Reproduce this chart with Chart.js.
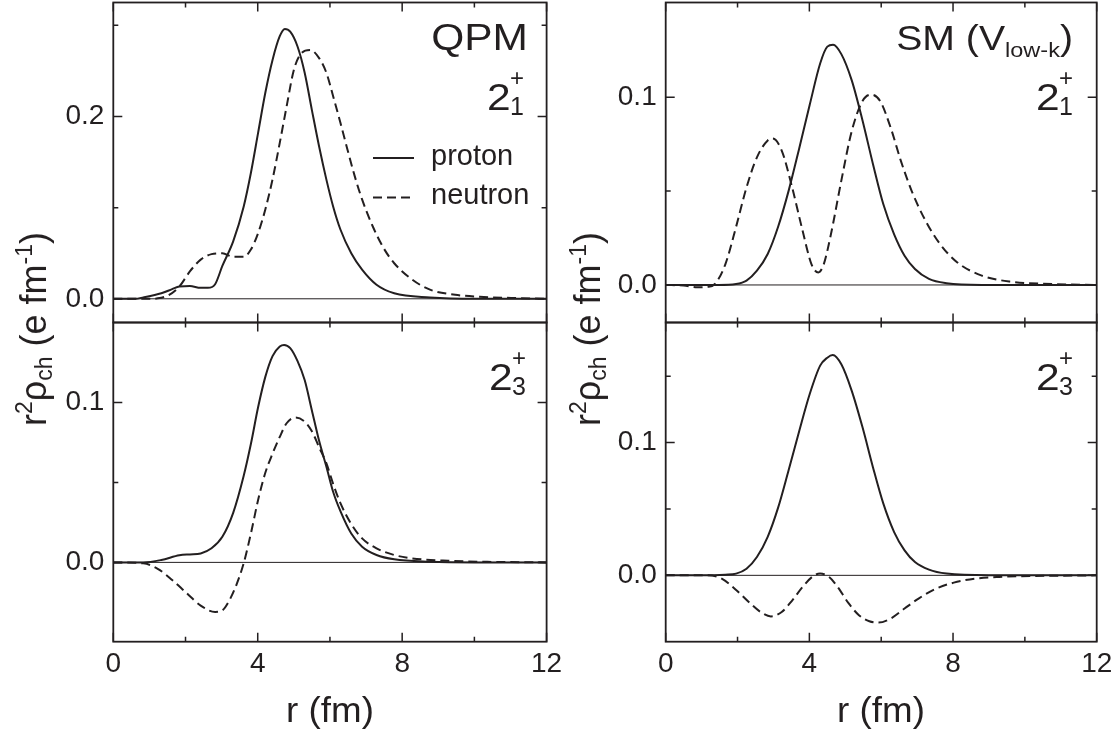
<!DOCTYPE html>
<html><head><meta charset="utf-8">
<script src="https://cdn.jsdelivr.net/npm/chart.js@4/dist/chart.umd.min.js"></script>
<style>
html,body{margin:0;padding:0;background:#fff;}
#wrap{position:relative;width:1111px;height:735px;overflow:hidden;font-family:"Liberation Sans",Arial,sans-serif;color:#231f20;}
canvas{position:absolute;left:0;top:0;}
.t{position:absolute;white-space:nowrap;line-height:1;}
</style></head><body><div id="wrap">
<canvas id="cTL" width="1111" height="735"></canvas>
<canvas id="cBL" width="1111" height="735"></canvas>
<canvas id="cTR" width="1111" height="735"></canvas>
<canvas id="cBR" width="1111" height="735"></canvas>
</div>
<script>
// ---------- data ----------
const xTickLabels = [0, 4, 8, 12];
const xMinorTicks = [2, 6, 10];

// QPM 2_1+
const rQ1p = [0,0.6,0.83,1.33,1.63,1.83,2.12,2.42,2.62,2.82,3.02,3.32,3.61,3.81,4.01,4.21,4.41,4.61,4.75,4.90,5.1,5.3,5.5,5.7,5.9,6.09,6.29,6.59,6.89,7.29,7.78,8.77,10,12];
const vQ1p = [0,0,0.0015,0.006,0.0106,0.0135,0.014,0.012,0.012,0.016,0.036,0.063,0.101,0.138,0.182,0.226,0.262,0.288,0.296,0.293,0.277,0.248,0.207,0.167,0.131,0.101,0.076,0.050,0.032,0.0154,0.006,0.0015,0,0];
const rQ1n = [0,1.0,1.23,1.53,1.83,2.12,2.42,2.72,3.02,3.32,3.61,3.81,4.01,4.21,4.41,4.61,4.80,5.0,5.2,5.45,5.70,5.90,6.09,6.29,6.49,6.69,6.89,7.19,7.48,7.78,8.28,8.77,9.47,10.26,11.25,12];
const vQ1n = [0,0,0.0005,0.004,0.0135,0.030,0.043,0.049,0.050,0.046,0.046,0.054,0.072,0.098,0.131,0.171,0.211,0.251,0.269,0.273,0.264,0.248,0.222,0.193,0.163,0.134,0.109,0.079,0.056,0.039,0.021,0.010,0.0044,0.002,0.0007,0];
// QPM 2_3+
const rQ3p = [0,0.83,1.33,1.83,2.12,2.42,2.72,3.02,3.32,3.61,3.81,4.01,4.21,4.41,4.61,4.73,4.9,5.1,5.3,5.5,5.7,5.9,6.09,6.29,6.59,6.89,7.29,7.78,8.77,10,12];
const vQ3p = [0,0,0.0015,0.0044,0.005,0.0056,0.0088,0.016,0.031,0.054,0.074,0.097,0.116,0.129,0.135,0.136,0.134,0.126,0.114,0.095,0.076,0.060,0.044,0.032,0.018,0.0098,0.0046,0.0019,0.0004,0,0];
const rQ3n = [0,0.83,1.23,1.63,2.02,2.42,2.82,3.02,3.22,3.41,3.61,3.81,4.01,4.21,4.41,4.61,4.80,5.05,5.30,5.5,5.7,5.9,6.09,6.29,6.59,6.89,7.29,7.78,8.28,9.27,10.5,12];
const vQ3n = [0,-0.0006,-0.004,-0.011,-0.019,-0.027,-0.031,-0.030,-0.0235,-0.014,-0.0006,0.018,0.039,0.056,0.068,0.0785,0.087,0.0906,0.088,0.082,0.072,0.062,0.049,0.037,0.024,0.015,0.0088,0.0046,0.0025,0.001,0.0003,0];
// SM 2_1+
const rS1p = [0,1.47,1.96,2.25,2.54,2.84,3.13,3.42,3.72,4.01,4.30,4.50,4.66,4.89,5.18,5.48,5.77,6.06,6.36,6.65,6.94,7.33,7.82,8.8,10,12];
const vS1p = [0,0,0.0005,0.0023,0.0076,0.0165,0.031,0.050,0.073,0.096,0.118,0.127,0.128,0.123,0.109,0.0876,0.0645,0.043,0.027,0.0156,0.0085,0.0032,0.0009,0,0,0];
const rS1n = [0,0.5,0.88,1.17,1.37,1.66,1.96,2.25,2.54,2.84,2.98,3.23,3.52,3.81,4.06,4.25,4.40,4.60,4.89,5.18,5.48,5.72,5.97,6.26,6.55,6.85,7.24,7.63,8.12,8.80,9.58,10.76,12];
const vS1n = [0,-0.0003,-0.0012,-0.001,0.0005,0.011,0.031,0.052,0.068,0.077,0.078,0.0716,0.052,0.029,0.011,0.0067,0.011,0.027,0.0556,0.082,0.098,0.1014,0.098,0.084,0.066,0.050,0.034,0.022,0.012,0.005,0.0018,0.0005,0];
// SM 2_3+
const rS3p = [0,0.98,1.66,1.96,2.25,2.54,2.84,3.13,3.42,3.72,4.01,4.30,4.50,4.65,4.89,5.18,5.48,5.77,6.06,6.36,6.65,6.94,7.33,7.82,9,12];
const vS3p = [0,0,0.0005,0.0013,0.005,0.0138,0.029,0.051,0.079,0.109,0.1366,0.158,0.164,0.166,0.159,0.139,0.1115,0.0815,0.054,0.0326,0.0188,0.010,0.0043,0.0013,0,0];
const rS3n = [0,1.17,1.56,1.96,2.35,2.64,2.93,3.23,3.52,3.81,4.11,4.30,4.55,4.79,5.09,5.38,5.67,5.92,6.26,6.65,7.04,7.53,8.02,8.61,9.29,10.27,12];
const vS3n = [0,0,-0.0025,-0.011,-0.021,-0.0276,-0.031,-0.0276,-0.019,-0.0088,-0.0005,0.0013,-0.0013,-0.0088,-0.021,-0.030,-0.0346,-0.0356,-0.0326,-0.025,-0.0175,-0.010,-0.0055,-0.0025,-0.0012,-0.0005,0];

// y-axis ranges / ticks per panel
const yRangeTL = [-0.026, 0.325], yMajorTL = [0, 0.2], yMinorTL = [0.1, 0.3];
const yRangeBL = [-0.0496, 0.150], yMajorBL = [0, 0.1], yMinorBL = [0.05];
const yRangeTR = [-0.02, 0.1505], yMajorTR = [0, 0.1], yMinorTR = [0.05];
const yRangeBR = [-0.05, 0.1905], yMajorBR = [0, 0.1], yMinorBR = [0.05, 0.15];

// ---------- drawing ----------
const INK = '#231f20';
Chart.defaults.font.family = "'Liberation Sans', Arial, sans-serif";
Chart.defaults.color = INK;

const pts = (rs, vs) => rs.map((r, i) => ({x: r, y: vs[i]}));

const framePlugin = {
  id: 'frame',
  beforeDatasetsDraw(chart) {
    const {ctx, chartArea: a, scales: {x, y}} = chart;
    const y0 = y.getPixelForValue(0);
    ctx.save();
    ctx.strokeStyle = INK; ctx.lineWidth = 1;
    ctx.beginPath(); ctx.moveTo(a.left, y0); ctx.lineTo(a.right, y0); ctx.stroke();
    ctx.restore();
  },
  afterDatasetsDraw(chart, args, o) {
    const {ctx, chartArea: a, scales: {x, y}} = chart;
    ctx.save();
    ctx.strokeStyle = INK; ctx.lineWidth = 1.8;
    ctx.strokeRect(a.left, a.top, a.right - a.left, a.bottom - a.top);
    ctx.lineWidth = 1.5;
    const tk = (vals, len, axis) => {
      vals.forEach(v => {
        ctx.beginPath();
        if (axis === 'x') {
          const p = x.getPixelForValue(v);
          ctx.moveTo(p, a.bottom); ctx.lineTo(p, a.bottom - len);
          ctx.moveTo(p, a.top); ctx.lineTo(p, a.top + len);
        } else {
          const p = y.getPixelForValue(v);
          ctx.moveTo(a.left, p); ctx.lineTo(a.left + len, p);
          ctx.moveTo(a.right, p); ctx.lineTo(a.right - len, p);
        }
        ctx.stroke();
      });
    };
    tk(xTickLabels, 9, 'x'); tk(xMinorTicks, 5, 'x');
    tk(o.yMajor, 9, 'y'); tk(o.yMinor, 5, 'y');
    ctx.restore();
  }
};

function panel(id, area, yRange, yMajor, yMinor, sets, showX) {
  const YW = 60, XH = showX ? 50 : 0;
  const padBottom = 735 - area.b - XH;
  new Chart(document.getElementById(id), {
    type: 'line',
    data: { datasets: sets.map(s => ({
      data: pts(s[0], s[1]), borderColor: INK, borderWidth: 2,
      borderDash: s[2] ? [9, 5] : [], pointRadius: 0, fill: false,
      cubicInterpolationMode: 'monotone', tension: 0.4
    })) },
    options: {
      responsive: false, animation: false, events: [],
      layout: { padding: { left: area.l - YW, top: area.t, right: 1111 - area.r, bottom: padBottom } },
      plugins: { legend: { display: false }, tooltip: { enabled: false }, frame: { yMajor, yMinor } },
      scales: {
        x: {
          type: 'linear', min: 0, max: 12, display: showX,
          grid: { display: false, drawTicks: false }, border: { display: false },
          afterBuildTicks: s => { s.ticks = xTickLabels.map(v => ({value: v})); },
          afterFit: s => { s.height = XH; s.paddingLeft = 0; s.paddingRight = 0; },
          ticks: { padding: 6, font: { size: 28 }, color: INK, maxRotation: 0, autoSkip: false, callback: v => String(v) }
        },
        y: {
          type: 'linear', min: yRange[0], max: yRange[1],
          grid: { display: false, drawTicks: false }, border: { display: false },
          afterBuildTicks: s => { s.ticks = yMajor.map(v => ({value: v})); },
          afterFit: s => { s.width = YW; s.paddingTop = 0; s.paddingBottom = 0; },
          ticks: { padding: 9, font: { size: 28 }, color: INK, autoSkip: false, callback: v => Number(v).toFixed(1) }
        }
      }
    },
    plugins: [framePlugin]
  });
}

panel('cTL', {l: 113.3, t: 2.5, r: 546.6, b: 322.5}, yRangeTL, yMajorTL, yMinorTL, [[rQ1p, vQ1p, false], [rQ1n, vQ1n, true]], false);
panel('cBL', {l: 113.3, t: 322.5, r: 546.6, b: 641.7}, yRangeBL, yMajorBL, yMinorBL, [[rQ3p, vQ3p, false], [rQ3n, vQ3n, true]], true);
panel('cTR', {l: 665.7, t: 2.5, r: 1096.7, b: 322.5}, yRangeTR, yMajorTR, yMinorTR, [[rS1p, vS1p, false], [rS1n, vS1n, true]], false);
panel('cBR', {l: 665.7, t: 322.5, r: 1096.7, b: 641.7}, yRangeBR, yMajorBR, yMinorBR, [[rS3p, vS3p, false], [rS3n, vS3n, true]], true);

// ---------- text annotations ----------
const wrap = document.getElementById('wrap');
function addText(html, x, base, fs, align, sx) {
  const d = document.createElement('div');
  d.className = 't'; d.innerHTML = html;
  d.style.fontSize = fs + 'px';
  d.style.top = (base - 0.8465 * fs) + 'px';
  d.style.left = x + 'px';
  const tx = align === 'right' ? '-100%' : align === 'center' ? '-50%' : '0';
  d.style.transformOrigin = (align === 'right' ? 'right' : align === 'center' ? 'center' : 'left') + ' top';
  d.style.transform = `translateX(${tx}) scaleX(${sx || 1})`;
  wrap.appendChild(d);
  return d;
}
function level(x, b, sub) {
  addText('2', x, b, 37, 'left', 1.15);
  addText('+', x + 23, b - 24, 24, 'left', 1);
  addText(sub, x + 23, b + 5, 25, 'left', 1);
}
addText('QPM', 528, 50, 36, 'right', 1.18);
addText('SM (V<span style="font-size:21px;position:relative;top:7px">low-k</span>)', 1073, 50, 35, 'right', 1.12);
level(487, 110, '1');
level(1036, 110, '1');
level(489, 390, '3');
level(1036, 390, '3');

// legend
const leg = document.createElement('div');
leg.style.cssText = 'position:absolute;left:373px;top:150px;';
leg.innerHTML = '<svg width="42" height="60" style="position:absolute;left:0;top:0">' +
  '<line x1="0" y1="8" x2="41" y2="8" stroke="' + INK + '" stroke-width="2"/>' +
  '<line x1="0" y1="47.5" x2="41" y2="47.5" stroke="' + INK + '" stroke-width="2" stroke-dasharray="9 5"/></svg>';
wrap.appendChild(leg);
addText('proton', 431, 166, 29, 'left', 1);
addText('neutron', 431, 205, 29, 'left', 1);

// axis titles
function yTitle(cx, cy) {
  const d = document.createElement('div');
  d.className = 't';
  d.style.cssText += `font-size:36px;left:${cx}px;top:${cy}px;transform:translate(-50%,-50%) rotate(-90deg);`;
  d.innerHTML = 'r<span style="font-size:23px;position:relative;top:-14px">2</span>&rho;<span style="font-size:23px;position:relative;top:6px">ch</span> (e fm<span style="font-size:23px;position:relative;top:-14px">-1</span>)';
  wrap.appendChild(d);
}
yTitle(34, 329);
yTitle(588, 329);
addText('r (fm)', 330, 722, 35, 'center', 1.05);
addText('r (fm)', 881, 722, 35, 'center', 1.05);
</script>
</body></html>
